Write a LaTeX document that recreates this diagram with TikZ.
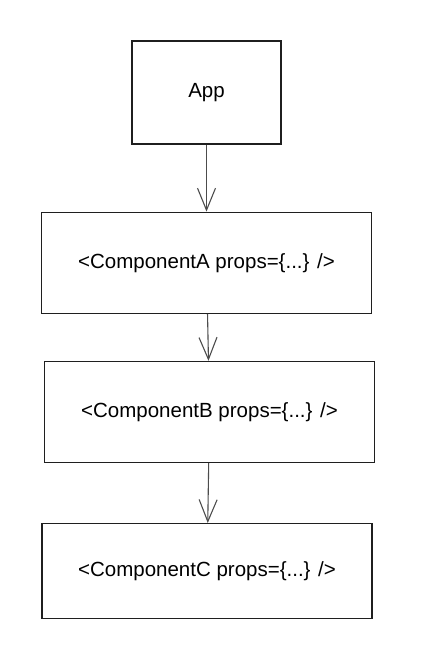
\documentclass[tikz,border=0pt]{standalone}
\usepackage{fontspec}
\setmainfont{Liberation Sans}
\usetikzlibrary{arrows.meta,positioning}

\begin{document}
\begin{tikzpicture}[>={Straight Barb[length=22pt,width=18pt,line width=1.1pt]},
    comp/.style={draw=black!88,line width=1.2pt,minimum width=330pt,minimum height=101pt,
      inner sep=0pt,font=\fontsize{20.5}{24}\selectfont},
    node distance=2cm]
  \useasboundingbox (0,0) rectangle (423pt,-659pt);
  			\node[comp,minimum width=149pt,minimum height=103pt] (app) at (206.5pt,-92.5pt) {App};
  			\node[comp]  (compA) [below=67pt of app]  {<ComponentA props=\{...\} />};
            \node[comp]  (compB) [below=47pt of compA,xshift=3pt]  {<ComponentB props=\{...\} />};
            \node[comp,minimum height=95pt]  (compC) [below=60pt of compB,xshift=-2.5pt]  {<ComponentC props=\{...\} />};

  			\path[->,draw=black!70,line width=1.1pt]
                     (app) edge (compA)
                     (compA) edge (compB)
                     (compB) edge (compC);
		\end{tikzpicture}
\end{document}
